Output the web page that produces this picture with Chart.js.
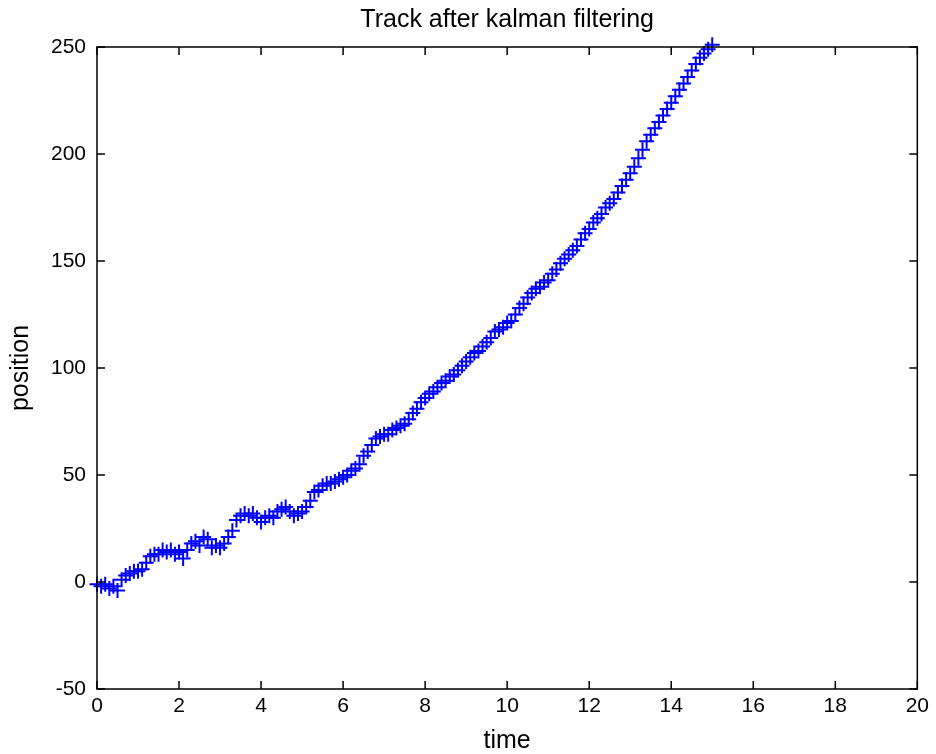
<!DOCTYPE html>
<html>
<head>
<meta charset="utf-8">
<script src="https://cdn.jsdelivr.net/npm/chart.js@4/dist/chart.umd.min.js"></script>
<style>
  html, body { margin: 0; padding: 0; background: #fff; }
  #wrap { width: 936px; height: 754px; }
</style>
</head>
<body>
<div id="wrap"><canvas id="trackChart" width="936" height="754"></canvas></div>
<script>
const times = [
  0, 0.1, 0.2, 0.3, 0.4, 0.5, 0.6, 0.7, 0.8, 0.9,
  1, 1.1, 1.2, 1.3, 1.4, 1.5, 1.6, 1.7, 1.8, 1.9,
  2, 2.1, 2.2, 2.3, 2.4, 2.5, 2.6, 2.7, 2.8, 2.9,
  3, 3.1, 3.2, 3.3, 3.4, 3.5, 3.6, 3.7, 3.8, 3.9,
  4, 4.1, 4.2, 4.3, 4.4, 4.5, 4.6, 4.7, 4.8, 4.9,
  5, 5.1, 5.2, 5.3, 5.4, 5.5, 5.6, 5.7, 5.8, 5.9,
  6, 6.1, 6.2, 6.3, 6.4, 6.5, 6.6, 6.7, 6.8, 6.9,
  7, 7.1, 7.2, 7.3, 7.4, 7.5, 7.6, 7.7, 7.8, 7.9,
  8, 8.1, 8.2, 8.3, 8.4, 8.5, 8.6, 8.7, 8.8, 8.9,
  9, 9.1, 9.2, 9.3, 9.4, 9.5, 9.6, 9.7, 9.8, 9.9,
  10, 10.1, 10.2, 10.3, 10.4, 10.5, 10.6, 10.7, 10.8, 10.9,
  11, 11.1, 11.2, 11.3, 11.4, 11.5, 11.6, 11.7, 11.8, 11.9,
  12, 12.1, 12.2, 12.3, 12.4, 12.5, 12.6, 12.7, 12.8, 12.9,
  13, 13.1, 13.2, 13.3, 13.4, 13.5, 13.6, 13.7, 13.8, 13.9,
  14, 14.1, 14.2, 14.3, 14.4, 14.5, 14.6, 14.7, 14.8, 14.9,
  15
];

const positions = [
  -1, -2, -1, -3, -2, -4, 1, 3, 4, 5,
  5, 6, 9, 12, 13, 13, 15, 14, 15, 13,
  14, 11, 15, 18, 19, 17, 21, 20, 16, 17,
  16, 18, 21, 24, 29, 31, 32, 31, 32, 30,
  28, 30, 31, 30, 33, 34, 35, 33, 31, 32,
  33, 35, 38, 42, 43, 45, 46, 46, 47, 48,
  49, 50, 52, 53, 55, 59, 61, 64, 67, 68,
  69, 69, 71, 72, 73, 74, 76, 79, 81, 84,
  86, 88, 89, 91, 93, 94, 96, 97, 99, 101,
  103, 105, 107, 108, 110, 112, 114, 117, 118, 119,
  121, 122, 125, 128, 130, 133, 135, 137, 138, 140,
  141, 144, 146, 149, 151, 153, 155, 157, 160, 163,
  165, 168, 170, 172, 175, 177, 179, 182, 185, 188,
  191, 194, 198, 202, 206, 209, 212, 215, 218, 221,
  224, 227, 230, 233, 236, 239, 242, 245, 247, 249,
  251
];

const xTicks = [0, 2, 4, 6, 8, 10, 12, 14, 16, 18, 20];
const yTicks = [-50, 0, 50, 100, 150, 200, 250];

const fontFamily = "'Liberation Sans', Arial, sans-serif";

// matlab style box with inward tick marks on all four sides
const boxPlugin = {
  id: "box",
  afterDraw(chart) {
    const { ctx, chartArea, scales } = chart;
    const { left, right, top, bottom } = chartArea;
    const len = 8;
    ctx.save();
    ctx.strokeStyle = "#000";
    ctx.lineWidth = 1.5;
    ctx.beginPath();
    xTicks.forEach((v) => {
      const px = scales.x.getPixelForValue(v);
      ctx.moveTo(px, bottom);
      ctx.lineTo(px, bottom - len);
      ctx.moveTo(px, top);
      ctx.lineTo(px, top + len);
    });
    yTicks.forEach((v) => {
      const py = scales.y.getPixelForValue(v);
      ctx.moveTo(left, py);
      ctx.lineTo(left + len, py);
      ctx.moveTo(right, py);
      ctx.lineTo(right - len, py);
    });
    ctx.stroke();
    ctx.strokeRect(left, top, right - left, bottom - top);
    ctx.restore();
  },
};

const points = times.map((t, i) => ({ x: t, y: positions[i] }));

new Chart(document.getElementById("trackChart"), {
  type: "scatter",
  data: {
    datasets: [
      {
        label: "track",
        data: points,
        pointStyle: "cross",
        pointRadius: 7.5,
        pointBorderWidth: 2,
        borderColor: "#0000ff",
        backgroundColor: "#0000ff",
        clip: false,
      },
    ],
  },
  options: {
    responsive: false,
    animation: false,
    layout: { padding: { left: 0, right: 16, top: 0, bottom: 0 } },
    plugins: {
      legend: { display: false },
      tooltip: { enabled: false },
      title: {
        display: true,
        fullSize: false,
        text: "Track after kalman filtering",
        color: "#000",
        font: { family: fontFamily, size: 25, weight: "normal", lineHeight: 1 },
        padding: { top: 8, bottom: 14 },
      },
    },
    scales: {
      x: {
        type: "linear",
        min: 0,
        max: 20,
        afterBuildTicks(scale) {
          scale.ticks = xTicks.map((v) => ({ value: v }));
        },
        afterFit(scale) {
          scale.height = 65;
        },
        grid: { display: false, drawTicks: false },
        border: { display: false },
        ticks: {
          color: "#000",
          padding: 7,
          maxRotation: 0,
          font: { family: fontFamily, size: 21, lineHeight: 1 },
        },
        title: {
          display: true,
          text: "time",
          color: "#000",
          font: { family: fontFamily, size: 25, lineHeight: 1 },
          padding: { top: 0, bottom: 0 },
        },
      },
      y: {
        type: "linear",
        min: -50,
        max: 250,
        afterBuildTicks(scale) {
          scale.ticks = yTicks.map((v) => ({ value: v }));
        },
        afterFit(scale) {
          scale.width = 97;
        },
        grid: { display: false, drawTicks: false },
        border: { display: false },
        ticks: {
          color: "#000",
          padding: 11,
          font: { family: fontFamily, size: 21, lineHeight: 1 },
        },
        title: {
          display: true,
          text: "position",
          color: "#000",
          font: { family: fontFamily, size: 25, lineHeight: 1 },
          padding: { top: 9, bottom: 0 },
        },
      },
    },
  },
  plugins: [boxPlugin],
});
</script>
</body>
</html>
